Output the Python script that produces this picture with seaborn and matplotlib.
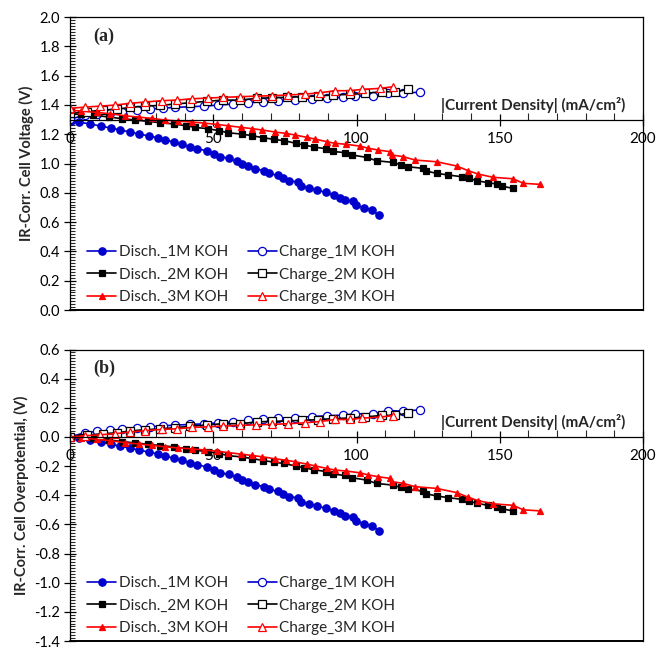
import numpy as np
import pandas as pd
import matplotlib
matplotlib.use("Agg")
import matplotlib.pyplot as plt
from matplotlib.ticker import MultipleLocator, FormatStrFormatter
import seaborn as sns

# values: |current density| (mA/cm2) and IR-corrected cell voltage (V)
disch_1m_x = [0.2, 3.1, 7.0, 10.7, 14.3, 17.6, 21.0, 24.2, 27.7, 30.6, 33.2, 36.4, 39.0, 41.9,
              44.4, 47.7, 50.3, 52.4, 55.5, 58.2, 60.1, 62.0, 64.7, 67.7, 69.4, 72.5, 74.4, 76.5,
              79.7, 80.5, 83.5, 86.3, 89.2, 92.1, 94.2, 96.0, 98.9, 99.8, 102.6, 105.3, 107.9]
disch_1m_v = [1.292, 1.283, 1.270, 1.256, 1.242, 1.229, 1.215, 1.201, 1.188, 1.176, 1.160, 1.147,
              1.131, 1.115, 1.101, 1.087, 1.065, 1.047, 1.035, 1.015, 0.999, 0.983, 0.965, 0.951,
              0.933, 0.919, 0.899, 0.883, 0.874, 0.849, 0.833, 0.819, 0.803, 0.785, 0.767, 0.751,
              0.744, 0.717, 0.698, 0.683, 0.646]

disch_2m_x = [0, 4.0, 8.1, 13.7, 18.3, 22.8, 27.2, 31.4, 36.2, 40.5, 43.6, 48.0, 52.1, 55.2, 59.9,
              63.6, 67.5, 71.2, 74.7, 78.9, 81.7, 85.2, 89.2, 91.7, 96.0, 98.6, 103.5, 107.0, 112.6,
              115.4, 118.0, 123.3, 124.2, 128.0, 132.0, 136.7, 139.2, 141.9, 146.0, 148.9, 150.7, 154.7]
disch_2m_v = [1.338, 1.335, 1.331, 1.317, 1.306, 1.297, 1.288, 1.279, 1.270, 1.258, 1.247, 1.238,
              1.224, 1.210, 1.201, 1.190, 1.176, 1.165, 1.156, 1.138, 1.126, 1.113, 1.101, 1.083,
              1.074, 1.058, 1.042, 1.019, 1.008, 0.992, 0.978, 0.967, 0.949, 0.933, 0.922, 0.910,
              0.899, 0.883, 0.869, 0.860, 0.846, 0.830]

disch_3m_x = [0, 4.0, 9.3, 14.0, 19.2, 24.0, 28.5, 33.2, 37.8, 42.5, 46.8, 51.2, 55.2, 59.7, 63.6,
              67.1, 71.6, 75.3, 78.5, 82.6, 85.5, 89.6, 92.5, 96.5, 101.2, 104.0, 107.6, 111.7, 112.3,
              116.3, 120.4, 128.0, 135.0, 139.0, 142.5, 147.7, 154.7, 158.2, 164.0]
disch_3m_v = [1.365, 1.358, 1.349, 1.340, 1.326, 1.317, 1.308, 1.297, 1.290, 1.283, 1.276, 1.267,
              1.258, 1.247, 1.238, 1.229, 1.215, 1.206, 1.195, 1.179, 1.167, 1.149, 1.138, 1.131,
              1.119, 1.105, 1.092, 1.081, 1.058, 1.047, 1.024, 1.012, 0.983, 0.951, 0.928, 0.906,
              0.896, 0.865, 0.858]

charge_1m_x = [0, 5.2, 9.5, 13.8, 18.0, 23.3, 28.0, 32.6, 36.6, 41.9, 46.9, 51.8, 57.0, 62.2, 67.5,
               72.7, 78.5, 84.3, 89.6, 95.4, 99.5, 105.9, 111.1, 116.3, 122.2]
charge_1m_v = [1.302, 1.331, 1.340, 1.347, 1.354, 1.365, 1.372, 1.379, 1.383, 1.388, 1.392, 1.399,
               1.406, 1.415, 1.422, 1.429, 1.433, 1.442, 1.447, 1.452, 1.461, 1.461, 1.483, 1.479, 1.488]

charge_2m_x = [0, 5.8, 11.6, 16.3, 20.9, 26.2, 31.4, 36.6, 42.0, 47.7, 53.5, 59.3, 65.2, 70.4, 75.6,
               80.9, 86.7, 91.9, 97.7, 103.0, 108.8, 113.4, 118.1]
charge_2m_v = [1.342, 1.354, 1.365, 1.370, 1.383, 1.392, 1.397, 1.406, 1.415, 1.425, 1.433, 1.433,
               1.445, 1.449, 1.452, 1.456, 1.461, 1.468, 1.472, 1.479, 1.490, 1.490, 1.506]

charge_3m_x = [0, 5.2, 10.5, 15.7, 20.9, 26.2, 32.0, 37.2, 42.5, 48.3, 53.5, 59.3, 64.8, 70.4, 76.2,
               82.0, 87.3, 92.5, 97.7, 101.8, 108.2, 112.6]
charge_3m_v = [1.377, 1.385, 1.392, 1.399, 1.411, 1.420, 1.429, 1.433, 1.442, 1.447, 1.452, 1.456,
               1.460, 1.463, 1.468, 1.474, 1.483, 1.497, 1.497, 1.506, 1.513, 1.524]

series = [
    # label, x, v, color, marker, filled
    ("Disch._1M KOH", disch_1m_x, disch_1m_v, "#0000CC", "o", True),
    ("Charge_1M KOH", charge_1m_x, charge_1m_v, "#0000CC", "o", False),
    ("Disch._2M KOH", disch_2m_x, disch_2m_v, "black", "s", True),
    ("Charge_2M KOH", charge_2m_x, charge_2m_v, "black", "s", False),
    ("Disch._3M KOH", disch_3m_x, disch_3m_v, "#FF0000", "^", True),
    ("Charge_3M KOH", charge_3m_x, charge_3m_v, "#FF0000", "^", False),
]
legend_order = ["Disch._1M KOH", "Disch._2M KOH", "Disch._3M KOH",
                "Charge_1M KOH", "Charge_2M KOH", "Charge_3M KOH"]

sns.set_theme(style="ticks")
plt.rcParams['font.family'] = ['Lato', 'DejaVu Sans']

fig = plt.figure(figsize=(6.58, 6.5), dpi=100)
ax_a = fig.add_axes([0.1064, 0.523, 0.8708, 0.4508])
ax_b = fig.add_axes([0.1064, 0.0138, 0.8708, 0.4485])


def draw_panel(ax, overpotential, ylim, cross_y, ylabel, tag, xlab_y):
    for label, x, v, color, marker, filled in series:
        v = np.array(v)
        y = v - v[0] if overpotential else v  # overpotential = voltage - open-circuit value
        df = pd.DataFrame({"x": x, "y": y})
        ms = 5.3 if marker == "o" else 5.0
        if not filled:
            ms += 0.6
        sns.lineplot(data=df, x="x", y="y", ax=ax, color=color, marker=marker,
                     markersize=ms, markerfacecolor=color if filled else "white",
                     markeredgecolor=color, markeredgewidth=0.9, linewidth=1.2,
                     estimator=None, sort=False, label=label)

    ax.set_xlim(0, 200)
    ax.set_ylim(*ylim)
    ax.xaxis.set_major_locator(MultipleLocator(50))
    ax.xaxis.set_minor_locator(MultipleLocator(10))
    ax.yaxis.set_major_locator(MultipleLocator(0.2))
    ax.yaxis.set_minor_locator(MultipleLocator(0.02))
    ax.yaxis.set_major_formatter(FormatStrFormatter("%.1f"))

    ax.spines['bottom'].set_position(('data', cross_y))
    for s in ax.spines.values():
        s.set_color("black")
        s.set_linewidth(0.9)
    ax.plot([0, 1], [0, 0], transform=ax.transAxes, color="black", lw=1.4, clip_on=False)

    ax.tick_params(axis='x', which='major', direction='inout', length=8, width=0.9,
                   labelsize=11, pad=5, colors="black")
    ax.tick_params(axis='x', which='minor', direction='in', length=5, width=0.8)
    ax.tick_params(axis='y', which='major', direction='inout', length=8, width=0.9,
                   labelsize=10.5, pad=3, colors="black")
    ax.tick_params(axis='y', which='minor', direction='in', length=3.5, width=0.8)

    ax.set_xlabel("")
    ax.set_ylabel(ylabel, fontsize=10.5, fontweight='bold', labelpad=4)
    ax.text(161.5, xlab_y, "|Current Density| (mA/cm²)", fontsize=11,
            fontweight='bold', ha='center', va='center')
    ax.text(0.04, 0.935, tag, transform=ax.transAxes, fontsize=13, fontweight='bold',
            family='Liberation Serif', ha='left', va='center')

    handles, labels = ax.get_legend_handles_labels()
    lookup = dict(zip(labels, handles))
    ax.legend([lookup[k] for k in legend_order], legend_order, ncol=2, frameon=False,
              loc='lower left', bbox_to_anchor=(0.03, 0.02), fontsize=11,
              handlelength=1.9, handletextpad=0.15, columnspacing=1.3,
              labelspacing=0.56, borderpad=0, borderaxespad=0)


draw_panel(ax_a, False, (0.0, 2.0), 1.3, "IR-Corr. Cell Voltage (V)", "(a)", 1.40)
draw_panel(ax_b, True, (-1.4, 0.6), 0.0, "IR-Corr. Cell Overpotential, (V)", "(b)", 0.102)

fig.savefig("out.png", dpi=100)
